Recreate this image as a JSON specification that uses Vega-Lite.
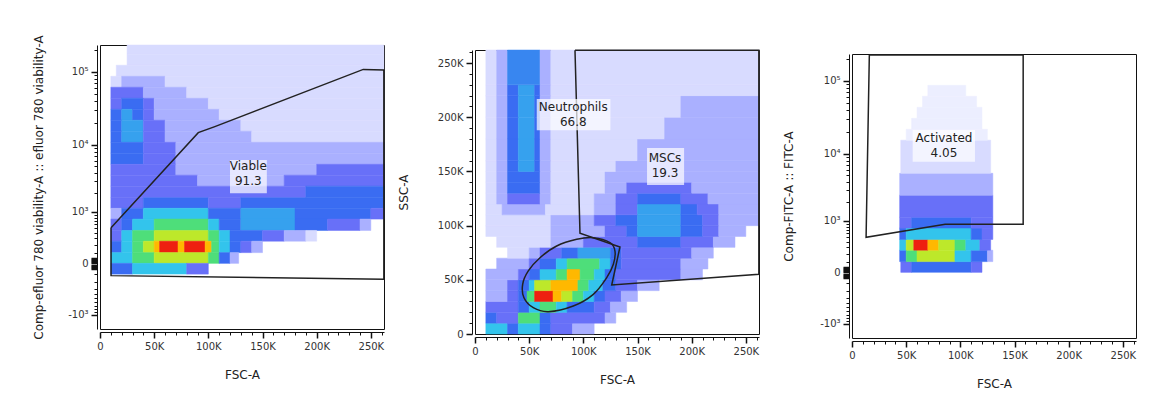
{
  "$schema": "https://vega.github.io/schema/vega-lite/v6.json",
  "background": "white",
  "padding": {"left": 32, "top": 34, "right": 5, "bottom": 5},
  "spacing": 19,
  "config": {
    "view": {"stroke": "#111", "strokeWidth": 1},
    "axis": {"grid": false, "domainColor": "#111", "tickColor": "#111", "labelColor": "#333", "labelFont": "DejaVu Sans", "labelFontSize": 10, "titleFont": "DejaVu Sans", "titleFontWeight": "normal", "titleColor": "#222", "labelOverlap": false, "labelFlush": false, "offset": 3, "minExtent": 0, "labelPadding": 3}
  },
  "datasets": {
    "c1": [
      {"y":174000,"y2":232000,"x":25,"x2":262,"d":1},
      {"y":123000,"y2":174000,"x":25,"x2":262,"d":1},
      {"y":87000,"y2":123000,"x":15,"x2":262,"d":1},
      {"y":61700,"y2":87000,"x":10,"x2":20,"d":1},{"y":61700,"y2":87000,"x":20,"x2":60,"d":2},{"y":61700,"y2":87000,"x":60,"x2":262,"d":1},
      {"y":43600,"y2":61700,"x":10,"x2":40,"d":3},{"y":43600,"y2":61700,"x":40,"x2":80,"d":2},{"y":43600,"y2":61700,"x":80,"x2":262,"d":1},
      {"y":30800,"y2":43600,"x":10,"x2":20,"d":3},{"y":30800,"y2":43600,"x":20,"x2":40,"d":4},{"y":30800,"y2":43600,"x":40,"x2":50,"d":3},{"y":30800,"y2":43600,"x":50,"x2":100,"d":2},{"y":30800,"y2":43600,"x":100,"x2":262,"d":1},
      {"y":21800,"y2":30800,"x":10,"x2":20,"d":4},{"y":21800,"y2":30800,"x":20,"x2":30,"d":4.6},{"y":21800,"y2":30800,"x":30,"x2":40,"d":4},{"y":21800,"y2":30800,"x":40,"x2":50,"d":3},{"y":21800,"y2":30800,"x":50,"x2":110,"d":2},{"y":21800,"y2":30800,"x":110,"x2":262,"d":1},
      {"y":15400,"y2":21800,"x":10,"x2":20,"d":4},{"y":15400,"y2":21800,"x":20,"x2":40,"d":4.6},{"y":15400,"y2":21800,"x":40,"x2":60,"d":3},{"y":15400,"y2":21800,"x":60,"x2":130,"d":2},{"y":15400,"y2":21800,"x":130,"x2":262,"d":1},
      {"y":10800,"y2":15400,"x":10,"x2":20,"d":4},{"y":10800,"y2":15400,"x":20,"x2":40,"d":4.6},{"y":10800,"y2":15400,"x":40,"x2":60,"d":3},{"y":10800,"y2":15400,"x":60,"x2":140,"d":2},{"y":10800,"y2":15400,"x":140,"x2":262,"d":1},
      {"y":7600,"y2":10800,"x":10,"x2":40,"d":4},{"y":7600,"y2":10800,"x":40,"x2":70,"d":3},{"y":7600,"y2":10800,"x":70,"x2":262,"d":2},
      {"y":5300,"y2":7600,"x":10,"x2":40,"d":4},{"y":5300,"y2":7600,"x":40,"x2":70,"d":3},{"y":5300,"y2":7600,"x":70,"x2":262,"d":2},
      {"y":3700,"y2":5300,"x":10,"x2":70,"d":3},{"y":3700,"y2":5300,"x":70,"x2":200,"d":2},{"y":3700,"y2":5300,"x":200,"x2":262,"d":3},
      {"y":2550,"y2":3700,"x":10,"x2":90,"d":3},{"y":2550,"y2":3700,"x":90,"x2":170,"d":2},{"y":2550,"y2":3700,"x":170,"x2":262,"d":3},
      {"y":1700,"y2":2550,"x":10,"x2":190,"d":3},{"y":1700,"y2":2550,"x":190,"x2":262,"d":4},
      {"y":1150,"y2":1700,"x":10,"x2":40,"d":3},{"y":1150,"y2":1700,"x":40,"x2":100,"d":4},{"y":1150,"y2":1700,"x":100,"x2":130,"d":3},{"y":1150,"y2":1700,"x":130,"x2":262,"d":4},
      {"y":750,"y2":1150,"x":10,"x2":20,"d":2},{"y":750,"y2":1150,"x":20,"x2":40,"d":4},{"y":750,"y2":1150,"x":40,"x2":100,"d":5},{"y":750,"y2":1150,"x":100,"x2":130,"d":4},{"y":750,"y2":1150,"x":130,"x2":180,"d":4.6},{"y":750,"y2":1150,"x":180,"x2":250,"d":4},{"y":750,"y2":1150,"x":250,"x2":262,"d":3},
      {"y":450,"y2":750,"x":10,"x2":20,"d":3},{"y":450,"y2":750,"x":20,"x2":30,"d":4},{"y":450,"y2":750,"x":30,"x2":50,"d":5},{"y":450,"y2":750,"x":50,"x2":100,"d":6},{"y":450,"y2":750,"x":100,"x2":110,"d":5},{"y":450,"y2":750,"x":110,"x2":130,"d":4},{"y":450,"y2":750,"x":130,"x2":180,"d":4.6},{"y":450,"y2":750,"x":180,"x2":210,"d":4},{"y":450,"y2":750,"x":210,"x2":240,"d":3},{"y":450,"y2":750,"x":240,"x2":250,"d":2},
      {"y":250,"y2":450,"x":10,"x2":20,"d":3},{"y":250,"y2":450,"x":20,"x2":30,"d":5},{"y":250,"y2":450,"x":30,"x2":50,"d":6},{"y":250,"y2":450,"x":50,"x2":100,"d":7},{"y":250,"y2":450,"x":100,"x2":110,"d":6},{"y":250,"y2":450,"x":110,"x2":120,"d":5},{"y":250,"y2":450,"x":120,"x2":150,"d":4},{"y":250,"y2":450,"x":150,"x2":170,"d":3},{"y":250,"y2":450,"x":170,"x2":190,"d":2},{"y":250,"y2":450,"x":190,"x2":200,"d":1},
      {"y":100,"y2":250,"x":10,"x2":20,"d":4},{"y":100,"y2":250,"x":20,"x2":30,"d":5},{"y":100,"y2":250,"x":30,"x2":40,"d":6},{"y":100,"y2":250,"x":40,"x2":50,"d":7},{"y":100,"y2":250,"x":50,"x2":55,"d":8},{"y":100,"y2":250,"x":55,"x2":72,"d":9},{"y":100,"y2":250,"x":72,"x2":78,"d":8},{"y":100,"y2":250,"x":78,"x2":97,"d":9},{"y":100,"y2":250,"x":97,"x2":103,"d":8},{"y":100,"y2":250,"x":103,"x2":110,"d":6},{"y":100,"y2":250,"x":110,"x2":120,"d":5},{"y":100,"y2":250,"x":120,"x2":130,"d":4},{"y":100,"y2":250,"x":130,"x2":140,"d":3},{"y":100,"y2":250,"x":140,"x2":150,"d":2},
      {"y":0,"y2":100,"x":10,"x2":30,"d":5},{"y":0,"y2":100,"x":30,"x2":50,"d":6},{"y":0,"y2":100,"x":50,"x2":100,"d":7},{"y":0,"y2":100,"x":100,"x2":110,"d":6},{"y":0,"y2":100,"x":110,"x2":120,"d":4},{"y":0,"y2":100,"x":120,"x2":128,"d":2},
      {"y":-100,"y2":0,"x":10,"x2":30,"d":4},{"y":-100,"y2":0,"x":30,"x2":80,"d":5},{"y":-100,"y2":0,"x":80,"x2":100,"d":3}
    ],
    "c2": [
      {"y":0,"y2":10,"x":10,"x2":30,"d":5},{"y":0,"y2":10,"x":30,"x2":40,"d":4},{"y":0,"y2":10,"x":40,"x2":60,"d":5},{"y":0,"y2":10,"x":60,"x2":70,"d":4},{"y":0,"y2":10,"x":70,"x2":90,"d":3},{"y":0,"y2":10,"x":90,"x2":110,"d":2},
      {"y":10,"y2":20,"x":10,"x2":20,"d":4},{"y":10,"y2":20,"x":20,"x2":40,"d":3},{"y":10,"y2":20,"x":40,"x2":60,"d":6},{"y":10,"y2":20,"x":60,"x2":70,"d":4},{"y":10,"y2":20,"x":70,"x2":120,"d":3},{"y":10,"y2":20,"x":120,"x2":130,"d":2},
      {"y":20,"y2":30,"x":10,"x2":40,"d":3},{"y":20,"y2":30,"x":40,"x2":50,"d":4},{"y":20,"y2":30,"x":50,"x2":60,"d":5},{"y":20,"y2":30,"x":60,"x2":75,"d":6},{"y":20,"y2":30,"x":75,"x2":85,"d":5},{"y":20,"y2":30,"x":85,"x2":110,"d":4},{"y":20,"y2":30,"x":110,"x2":125,"d":3},{"y":20,"y2":30,"x":125,"x2":140,"d":2},
      {"y":30,"y2":40,"x":10,"x2":30,"d":2},{"y":30,"y2":40,"x":30,"x2":40,"d":3},{"y":30,"y2":40,"x":40,"x2":48,"d":4},{"y":30,"y2":40,"x":48,"x2":55,"d":6},{"y":30,"y2":40,"x":55,"x2":72,"d":9},{"y":30,"y2":40,"x":72,"x2":80,"d":8},{"y":30,"y2":40,"x":80,"x2":90,"d":7},{"y":30,"y2":40,"x":90,"x2":100,"d":6},{"y":30,"y2":40,"x":100,"x2":110,"d":5},{"y":30,"y2":40,"x":110,"x2":120,"d":4},{"y":30,"y2":40,"x":120,"x2":135,"d":3},{"y":30,"y2":40,"x":135,"x2":150,"d":2},
      {"y":40,"y2":50,"x":10,"x2":30,"d":2},{"y":40,"y2":50,"x":30,"x2":40,"d":3},{"y":40,"y2":50,"x":40,"x2":50,"d":4},{"y":40,"y2":50,"x":50,"x2":55,"d":5},{"y":40,"y2":50,"x":55,"x2":70,"d":7},{"y":40,"y2":50,"x":70,"x2":95,"d":8},{"y":40,"y2":50,"x":95,"x2":105,"d":6},{"y":40,"y2":50,"x":105,"x2":118,"d":5},{"y":40,"y2":50,"x":118,"x2":130,"d":4},{"y":40,"y2":50,"x":130,"x2":150,"d":3},{"y":40,"y2":50,"x":150,"x2":170,"d":2},
      {"y":50,"y2":60,"x":10,"x2":40,"d":2},{"y":50,"y2":60,"x":40,"x2":50,"d":3},{"y":50,"y2":60,"x":50,"x2":60,"d":4},{"y":50,"y2":60,"x":60,"x2":75,"d":5},{"y":50,"y2":60,"x":75,"x2":85,"d":6},{"y":50,"y2":60,"x":85,"x2":97,"d":8},{"y":50,"y2":60,"x":97,"x2":110,"d":6},{"y":50,"y2":60,"x":110,"x2":120,"d":5},{"y":50,"y2":60,"x":120,"x2":130,"d":4},{"y":50,"y2":60,"x":130,"x2":190,"d":3},{"y":50,"y2":60,"x":190,"x2":210,"d":2},
      {"y":60,"y2":70,"x":20,"x2":50,"d":2},{"y":60,"y2":70,"x":50,"x2":60,"d":3},{"y":60,"y2":70,"x":60,"x2":75,"d":4},{"y":60,"y2":70,"x":75,"x2":85,"d":5},{"y":60,"y2":70,"x":85,"x2":115,"d":6},{"y":60,"y2":70,"x":115,"x2":125,"d":5},{"y":60,"y2":70,"x":125,"x2":135,"d":4},{"y":60,"y2":70,"x":135,"x2":190,"d":3},{"y":60,"y2":70,"x":190,"x2":215,"d":2},
      {"y":70,"y2":80,"x":30,"x2":50,"d":1},{"y":70,"y2":80,"x":50,"x2":60,"d":2},{"y":70,"y2":80,"x":60,"x2":80,"d":3},{"y":70,"y2":80,"x":80,"x2":95,"d":4},{"y":70,"y2":80,"x":95,"x2":125,"d":4.6},{"y":70,"y2":80,"x":125,"x2":135,"d":4},{"y":70,"y2":80,"x":135,"x2":200,"d":3},{"y":70,"y2":80,"x":200,"x2":220,"d":2},
      {"y":80,"y2":90,"x":20,"x2":70,"d":1},{"y":80,"y2":90,"x":70,"x2":100,"d":2},{"y":80,"y2":90,"x":100,"x2":150,"d":3},{"y":80,"y2":90,"x":150,"x2":190,"d":4},{"y":80,"y2":90,"x":190,"x2":220,"d":3},{"y":80,"y2":90,"x":220,"x2":240,"d":2},
      {"y":90,"y2":100,"x":10,"x2":70,"d":1},{"y":90,"y2":100,"x":70,"x2":120,"d":2},{"y":90,"y2":100,"x":120,"x2":140,"d":3},{"y":90,"y2":100,"x":140,"x2":150,"d":4},{"y":90,"y2":100,"x":150,"x2":190,"d":4.6},{"y":90,"y2":100,"x":190,"x2":210,"d":4},{"y":90,"y2":100,"x":210,"x2":225,"d":3},{"y":90,"y2":100,"x":225,"x2":250,"d":2},
      {"y":100,"y2":110,"x":10,"x2":70,"d":1},{"y":100,"y2":110,"x":70,"x2":110,"d":2},{"y":100,"y2":110,"x":110,"x2":130,"d":3},{"y":100,"y2":110,"x":130,"x2":150,"d":4},{"y":100,"y2":110,"x":150,"x2":190,"d":4.6},{"y":100,"y2":110,"x":190,"x2":210,"d":4},{"y":100,"y2":110,"x":210,"x2":225,"d":3},{"y":100,"y2":110,"x":225,"x2":262,"d":2},
      {"y":110,"y2":120,"x":10,"x2":25,"d":1},{"y":110,"y2":120,"x":25,"x2":65,"d":2},{"y":110,"y2":120,"x":65,"x2":110,"d":1},{"y":110,"y2":120,"x":110,"x2":130,"d":2},{"y":110,"y2":120,"x":130,"x2":150,"d":3},{"y":110,"y2":120,"x":150,"x2":190,"d":4.6},{"y":110,"y2":120,"x":190,"x2":205,"d":4},{"y":110,"y2":120,"x":205,"x2":225,"d":3},{"y":110,"y2":120,"x":225,"x2":262,"d":2},
      {"y":120,"y2":130,"x":10,"x2":20,"d":1},{"y":120,"y2":130,"x":20,"x2":30,"d":2},{"y":120,"y2":130,"x":30,"x2":60,"d":3},{"y":120,"y2":130,"x":60,"x2":70,"d":2},{"y":120,"y2":130,"x":70,"x2":110,"d":1},{"y":120,"y2":130,"x":110,"x2":130,"d":2},{"y":120,"y2":130,"x":130,"x2":150,"d":3},{"y":120,"y2":130,"x":150,"x2":190,"d":4},{"y":120,"y2":130,"x":190,"x2":215,"d":3},{"y":120,"y2":130,"x":215,"x2":262,"d":2},
      {"y":130,"y2":140,"x":10,"x2":20,"d":1},{"y":130,"y2":140,"x":20,"x2":30,"d":2},{"y":130,"y2":140,"x":30,"x2":60,"d":4},{"y":130,"y2":140,"x":60,"x2":70,"d":2},{"y":130,"y2":140,"x":70,"x2":120,"d":1},{"y":130,"y2":140,"x":120,"x2":140,"d":2},{"y":130,"y2":140,"x":140,"x2":200,"d":3},{"y":130,"y2":140,"x":200,"x2":262,"d":2},
      {"y":140,"y2":150,"x":10,"x2":20,"d":1},{"y":140,"y2":150,"x":20,"x2":30,"d":2},{"y":140,"y2":150,"x":30,"x2":60,"d":4},{"y":140,"y2":150,"x":60,"x2":70,"d":2},{"y":140,"y2":150,"x":70,"x2":120,"d":1},{"y":140,"y2":150,"x":120,"x2":262,"d":2},
      {"y":150,"y2":160,"x":10,"x2":20,"d":1},{"y":150,"y2":160,"x":20,"x2":30,"d":2},{"y":150,"y2":160,"x":30,"x2":40,"d":4},{"y":150,"y2":160,"x":40,"x2":55,"d":4.6},{"y":150,"y2":160,"x":55,"x2":60,"d":4},{"y":150,"y2":160,"x":60,"x2":70,"d":2},{"y":150,"y2":160,"x":70,"x2":130,"d":1},{"y":150,"y2":160,"x":130,"x2":262,"d":2},
      {"y":160,"y2":180,"x":10,"x2":20,"d":1},{"y":160,"y2":180,"x":20,"x2":30,"d":2},{"y":160,"y2":180,"x":30,"x2":40,"d":4},{"y":160,"y2":180,"x":40,"x2":55,"d":4.6},{"y":160,"y2":180,"x":55,"x2":60,"d":4},{"y":160,"y2":180,"x":60,"x2":70,"d":2},{"y":160,"y2":180,"x":70,"x2":150,"d":1},{"y":160,"y2":180,"x":150,"x2":262,"d":2},
      {"y":180,"y2":200,"x":10,"x2":20,"d":1},{"y":180,"y2":200,"x":20,"x2":30,"d":2},{"y":180,"y2":200,"x":30,"x2":40,"d":4},{"y":180,"y2":200,"x":40,"x2":55,"d":4.6},{"y":180,"y2":200,"x":55,"x2":60,"d":4},{"y":180,"y2":200,"x":60,"x2":70,"d":2},{"y":180,"y2":200,"x":70,"x2":175,"d":1},{"y":180,"y2":200,"x":175,"x2":262,"d":2},
      {"y":200,"y2":220,"x":10,"x2":20,"d":1},{"y":200,"y2":220,"x":20,"x2":30,"d":2},{"y":200,"y2":220,"x":30,"x2":40,"d":4},{"y":200,"y2":220,"x":40,"x2":55,"d":4.6},{"y":200,"y2":220,"x":55,"x2":60,"d":4},{"y":200,"y2":220,"x":60,"x2":70,"d":2},{"y":200,"y2":220,"x":70,"x2":190,"d":1},{"y":200,"y2":220,"x":190,"x2":262,"d":2},
      {"y":220,"y2":230,"x":10,"x2":20,"d":1},{"y":220,"y2":230,"x":20,"x2":30,"d":2},{"y":220,"y2":230,"x":30,"x2":40,"d":4},{"y":220,"y2":230,"x":40,"x2":55,"d":4.6},{"y":220,"y2":230,"x":55,"x2":60,"d":4},{"y":220,"y2":230,"x":60,"x2":70,"d":2},{"y":220,"y2":230,"x":70,"x2":262,"d":1},
      {"y":230,"y2":262.144,"x":10,"x2":20,"d":1},{"y":230,"y2":262.144,"x":20,"x2":30,"d":2},{"y":230,"y2":262.144,"x":30,"x2":60,"d":4.3},{"y":230,"y2":262.144,"x":60,"x2":70,"d":2},{"y":230,"y2":262.144,"x":70,"x2":262,"d":1}
    ],
    "c3": [
      {"y":0,"y2":100,"x":45,"x2":55,"d":3},{"y":0,"y2":100,"x":55,"x2":110,"d":4},{"y":0,"y2":100,"x":110,"x2":120,"d":3},
      {"y":100,"y2":250,"x":44,"x2":50,"d":4},{"y":100,"y2":250,"x":50,"x2":60,"d":6},{"y":100,"y2":250,"x":60,"x2":95,"d":7},{"y":100,"y2":250,"x":95,"x2":110,"d":5},{"y":100,"y2":250,"x":110,"x2":125,"d":4},{"y":100,"y2":250,"x":125,"x2":130,"d":2},
      {"y":250,"y2":450,"x":44,"x2":50,"d":5},{"y":250,"y2":450,"x":50,"x2":57,"d":7},{"y":250,"y2":450,"x":57,"x2":70,"d":9},{"y":250,"y2":450,"x":70,"x2":80,"d":8},{"y":250,"y2":450,"x":80,"x2":95,"d":7},{"y":250,"y2":450,"x":95,"x2":105,"d":6},{"y":250,"y2":450,"x":105,"x2":118,"d":5},{"y":250,"y2":450,"x":118,"x2":128,"d":3},
      {"y":450,"y2":750,"x":44,"x2":50,"d":4},{"y":450,"y2":750,"x":50,"x2":110,"d":5},{"y":450,"y2":750,"x":110,"x2":120,"d":4},{"y":450,"y2":750,"x":120,"x2":130,"d":3},
      {"y":750,"y2":1150,"x":44,"x2":55,"d":3},{"y":750,"y2":1150,"x":55,"x2":110,"d":4},{"y":750,"y2":1150,"x":110,"x2":130,"d":3},
      {"y":1150,"y2":2550,"x":44,"x2":130,"d":3},
      {"y":2550,"y2":5300,"x":44,"x2":130,"d":2},
      {"y":5300,"y2":15400,"x":45,"x2":128,"d":1},
      {"y":15400,"y2":21800,"x":50,"x2":125,"d":0.5},
      {"y":21800,"y2":30800,"x":55,"x2":120,"d":0.5},
      {"y":30800,"y2":43600,"x":60,"x2":120,"d":0.5},
      {"y":43600,"y2":61700,"x":65,"x2":115,"d":0.5},
      {"y":61700,"y2":87000,"x":70,"x2":105,"d":0.5}
    ],
    "g1": [
      {"o":0,"x":10.2,"y":510},{"o":1,"x":10.2,"y":-117},{"o":2,"x":262,"y":-161},{"o":3,"x":262,"y":106000},{"o":4,"x":243,"y":108000},{"o":5,"x":106,"y":17800},{"o":6,"x":90.7,"y":14700},{"o":7,"x":10.2,"y":510}
    ],
    "g2": [
      {"o":0,"x":92.3,"y":262},{"o":1,"x":96.9,"y":93},{"o":2,"x":133.8,"y":80.3},{"o":3,"x":126.2,"y":45.2},{"o":4,"x":262,"y":55.1},{"o":5,"x":262,"y":262},{"o":6,"x":92.3,"y":262}
    ],
    "e2": [
      {"o":0,"x":129.2,"y":76.6},{"o":1,"x":127.7,"y":64.3},{"o":2,"x":121.6,"y":52.0},{"o":3,"x":109.2,"y":36.6},{"o":4,"x":90.7,"y":25.8},{"o":5,"x":67.7,"y":20.6},{"o":6,"x":53.8,"y":24.3},{"o":7,"x":45.2,"y":33.5},{"o":8,"x":44.0,"y":45.9},{"o":9,"x":49.2,"y":58.2},{"o":10,"x":60.0,"y":70.4},{"o":11,"x":75.4,"y":81.2},{"o":12,"x":93.9,"y":87.4},{"o":13,"x":109.2,"y":88.9},{"o":14,"x":124.6,"y":84.3}
    ],
    "g3": [
      {"o":0,"x":16,"y":225000},{"o":1,"x":158,"y":225000},{"o":2,"x":158,"y":880},{"o":3,"x":86,"y":880},{"o":4,"x":13,"y":500},{"o":5,"x":16,"y":225000}
    ],
    "t1": [{"t":"Viable\n91.3","x":136.9,"y":5000,"bx":120,"bx2":154,"by":2000,"by2":6100}],
    "t2": [
      {"t":"Neutrophils\n66.8","x":90.7,"y":209.5,"bx":57,"bx2":125,"by":188,"by2":217},
      {"t":"MSCs\n19.3","x":175.4,"y":162.2,"bx":158.8,"bx2":193,"by":137.5,"by2":171.7}
    ],
    "t3": [{"t":"Activated\n4.05","x":84.9,"y":16400,"bx":56,"bx2":113.5,"by":7700,"by2":21300}]
  },
  "hconcat": [
    {
      "spacing": 8,
      "hconcat": [
        {
          "width": 284, "height": 284,
          "resolve": {"axis": {"x": "independent", "y": "independent"}},
          "layer": [
            {
              "data": {"name": "c1"},
              "mark": {"type": "rect", "strokeWidth": 0.5},
              "encoding": {
                "x": {"field": "x", "type": "quantitative", "scale": {"domain": [0, 262.144], "nice": false, "zero": false},
                  "axis": {"orient": "bottom", "title": "FSC-A", "titleFontSize": 12, "titlePadding": 18, "values": [0,50,100,150,200,250], "labelExpr": "datum.value == 0 ? '0' : datum.value + 'K'", "tickSize": 6, "tickWidth": 1.5}},
                "x2": {"field": "x2"},
                "y": {"field": "y", "type": "quantitative", "scale": {"type": "symlog", "constant": 250, "domain": [-1700, 232000], "nice": false, "zero": false},
                  "axis": {"orient": "left", "title": "Comp-efluor 780 viability-A :: efluor 780 viability-A", "titleFontSize": 12, "titlePadding": 22, "values": [-1000,0,1000,10000,100000],
                    "labelExpr": "datum.value == 100000 ? '10⁵' : datum.value == 10000 ? '10⁴' : datum.value == 1000 ? '10³' : datum.value == 0 ? '0' : '-10³'", "tickSize": 6, "tickWidth": 1.5}},
                "y2": {"field": "y2"},
                "color": {"field": "d", "type": "quantitative", "legend": null, "scale": {"domain": [0.5,1,2,3,4,5,6,7,8,9], "range": ["#eceeff","#d8dbff","#aab0ff","#6870f8","#3a6cf2","#33c4ec","#4ede7a","#bde82a","#ffb800","#ee2010"], "interpolate": "rgb"}},
                "stroke": {"field": "d", "type": "quantitative", "legend": null, "scale": {"domain": [0.5,1,2,3,4,5,6,7,8,9], "range": ["#eceeff","#d8dbff","#aab0ff","#6870f8","#3a6cf2","#33c4ec","#4ede7a","#bde82a","#ffb800","#ee2010"], "interpolate": "rgb"}}
              }
            },
            {
              "mark": {"type": "rule", "color": "#3ccfb0", "strokeWidth": 2},
              "encoding": {"x": {"datum": 261.3, "axis": null}, "y": {"datum": 450, "axis": null}, "y2": {"datum": 232000}}
            },
            {
              "data": {"name": "g1"},
              "mark": {"type": "line", "color": "#222", "strokeWidth": 1.5},
              "encoding": {
                "x": {"field": "x", "type": "quantitative", "axis": {"orient": "bottom", "title": null, "labels": false, "domain": false, "tickSize": 3, "values": [10,20,30,40,60,70,80,90,110,120,130,140,160,170,180,190,210,220,230,240,260]}},
                "y": {"field": "y", "type": "quantitative", "axis": {"orient": "left", "title": null, "labels": false, "domain": false,
                  "values": [-900,-800,-700,-600,-500,-400,-300,-200,-100,-50,-40,-30,-20,-10,10,20,30,40,50,100,200,300,400,500,600,700,800,900,2000,3000,4000,5000,6000,7000,8000,9000,20000,30000,40000,50000,60000,70000,80000,90000,200000],
                  "tickSize": {"condition": {"test": "abs(datum.value) < 100", "value": 6}, "value": 3},
                  "tickWidth": {"condition": {"test": "abs(datum.value) < 100", "value": 1.5}, "value": 1}}},
                "order": {"field": "o"}
              }
            },
            {
              "data": {"name": "t1"},
              "mark": {"type": "rect", "fill": "white", "opacity": 0.7},
              "encoding": {"x": {"field": "bx", "type": "quantitative", "axis": null}, "x2": {"field": "bx2"}, "y": {"field": "by", "type": "quantitative", "axis": null}, "y2": {"field": "by2"}}
            },
            {
              "data": {"name": "t1"},
              "mark": {"type": "text", "fontSize": 12, "font": "DejaVu Sans", "color": "#222", "lineBreak": "\n", "lineHeight": 15},
              "encoding": {"x": {"field": "x", "type": "quantitative", "axis": null}, "y": {"field": "y", "type": "quantitative", "axis": null}, "text": {"field": "t"}}
            }
          ]
        },
        {
          "spacing": 0,
          "vconcat": [
            {"width": 284, "height": 1, "view": {"stroke": null}, "data": {"values": []}, "mark": {"type": "point", "opacity": 0}},
            {
              "width": 284, "height": 284,
              "resolve": {"axis": {"x": "independent", "y": "independent"}},
              "layer": [
                {
                  "data": {"name": "c2"},
                  "mark": {"type": "rect", "strokeWidth": 0.5},
                  "encoding": {
                    "x": {"field": "x", "type": "quantitative", "scale": {"domain": [0, 262.144], "nice": false, "zero": false},
                      "axis": {"orient": "bottom", "title": "FSC-A", "titleFontSize": 12, "titlePadding": 18, "values": [0,50,100,150,200,250], "labelExpr": "datum.value == 0 ? '0' : datum.value + 'K'", "tickSize": 6, "tickWidth": 1.5}},
                    "x2": {"field": "x2"},
                    "y": {"field": "y", "type": "quantitative", "scale": {"domain": [0, 262.144], "nice": false, "zero": false},
                      "axis": {"orient": "left", "title": "SSC-A", "titleFontSize": 12, "titlePadding": 27, "values": [0,50,100,150,200,250], "labelExpr": "datum.value == 0 ? '0' : datum.value + 'K'", "tickSize": 6, "tickWidth": 1.5}},
                    "y2": {"field": "y2"},
                    "color": {"field": "d", "type": "quantitative", "legend": null, "scale": {"domain": [0.5,1,2,3,4,5,6,7,8,9], "range": ["#eceeff","#d8dbff","#aab0ff","#6870f8","#3a6cf2","#33c4ec","#4ede7a","#bde82a","#ffb800","#ee2010"], "interpolate": "rgb"}},
                    "stroke": {"field": "d", "type": "quantitative", "legend": null, "scale": {"domain": [0.5,1,2,3,4,5,6,7,8,9], "range": ["#eceeff","#d8dbff","#aab0ff","#6870f8","#3a6cf2","#33c4ec","#4ede7a","#bde82a","#ffb800","#ee2010"], "interpolate": "rgb"}}
                  }
                },
                {
                  "mark": {"type": "rule", "color": "#3cd080", "strokeWidth": 2},
                  "encoding": {"x": {"datum": 261.3, "axis": null}, "y": {"datum": 112, "axis": null}, "y2": {"datum": 262.144}}
                },
                {
                  "data": {"name": "g2"},
                  "mark": {"type": "line", "color": "#222", "strokeWidth": 1.5},
                  "encoding": {
                    "x": {"field": "x", "type": "quantitative", "axis": {"orient": "bottom", "title": null, "labels": false, "domain": false, "tickSize": 3, "values": [10,20,30,40,60,70,80,90,110,120,130,140,160,170,180,190,210,220,230,240,260]}},
                    "y": {"field": "y", "type": "quantitative", "axis": {"orient": "left", "title": null, "labels": false, "domain": false, "tickSize": 3, "values": [10,20,30,40,60,70,80,90,110,120,130,140,160,170,180,190,210,220,230,240,260]}},
                    "order": {"field": "o"}
                  }
                },
                {
                  "data": {"name": "e2"},
                  "mark": {"type": "line", "color": "#222", "strokeWidth": 1.5, "interpolate": "cardinal-closed"},
                  "encoding": {"x": {"field": "x", "type": "quantitative", "axis": null}, "y": {"field": "y", "type": "quantitative", "axis": null}, "order": {"field": "o"}}
                },
                {
                  "data": {"name": "t2"},
                  "mark": {"type": "rect", "fill": "white", "opacity": 0.7},
                  "encoding": {"x": {"field": "bx", "type": "quantitative", "axis": null}, "x2": {"field": "bx2"}, "y": {"field": "by", "type": "quantitative", "axis": null}, "y2": {"field": "by2"}}
                },
                {
                  "data": {"name": "t2"},
                  "mark": {"type": "text", "fontSize": 12, "font": "DejaVu Sans", "color": "#222", "lineBreak": "\n", "lineHeight": 15},
                  "encoding": {"x": {"field": "x", "type": "quantitative", "axis": null}, "y": {"field": "y", "type": "quantitative", "axis": null}, "text": {"field": "t"}}
                }
              ]
            }
          ]
        }
      ]
    },
    {
      "spacing": 5,
      "vconcat": [
        {"width": 284, "height": 1, "view": {"stroke": null}, "data": {"values": []}, "mark": {"type": "point", "opacity": 0}},
        {
          "width": 284, "height": 284,
          "resolve": {"axis": {"x": "independent", "y": "independent"}},
          "layer": [
            {
              "data": {"name": "c3"},
              "mark": {"type": "rect", "strokeWidth": 0.5},
              "encoding": {
                "x": {"field": "x", "type": "quantitative", "scale": {"domain": [0, 262.144], "nice": false, "zero": false},
                  "axis": {"orient": "bottom", "title": "FSC-A", "titleFontSize": 12, "titlePadding": 18, "values": [0,50,100,150,200,250], "labelExpr": "datum.value == 0 ? '0' : datum.value + 'K'", "tickSize": 6, "tickWidth": 1.5}},
                "x2": {"field": "x2"},
                "y": {"field": "y", "type": "quantitative", "scale": {"type": "symlog", "constant": 250, "domain": [-1700, 232000], "nice": false, "zero": false},
                  "axis": {"orient": "left", "title": "Comp-FITC-A :: FITC-A", "titleFontSize": 12, "titlePadding": 24, "values": [-1000,0,1000,10000,100000],
                    "labelExpr": "datum.value == 100000 ? '10⁵' : datum.value == 10000 ? '10⁴' : datum.value == 1000 ? '10³' : datum.value == 0 ? '0' : '-10³'", "tickSize": 6, "tickWidth": 1.5}},
                "y2": {"field": "y2"},
                "color": {"field": "d", "type": "quantitative", "legend": null, "scale": {"domain": [0.5,1,2,3,4,5,6,7,8,9], "range": ["#eceeff","#d8dbff","#aab0ff","#6870f8","#3a6cf2","#33c4ec","#4ede7a","#bde82a","#ffb800","#ee2010"], "interpolate": "rgb"}},
                "stroke": {"field": "d", "type": "quantitative", "legend": null, "scale": {"domain": [0.5,1,2,3,4,5,6,7,8,9], "range": ["#eceeff","#d8dbff","#aab0ff","#6870f8","#3a6cf2","#33c4ec","#4ede7a","#bde82a","#ffb800","#ee2010"], "interpolate": "rgb"}}
              }
            },
            {
              "data": {"name": "g3"},
              "mark": {"type": "line", "color": "#222", "strokeWidth": 1.5},
              "encoding": {
                "x": {"field": "x", "type": "quantitative", "axis": {"orient": "bottom", "title": null, "labels": false, "domain": false, "tickSize": 3, "values": [10,20,30,40,60,70,80,90,110,120,130,140,160,170,180,190,210,220,230,240,260]}},
                "y": {"field": "y", "type": "quantitative", "axis": {"orient": "left", "title": null, "labels": false, "domain": false,
                  "values": [-900,-800,-700,-600,-500,-400,-300,-200,-100,-50,-40,-30,-20,-10,10,20,30,40,50,100,200,300,400,500,600,700,800,900,2000,3000,4000,5000,6000,7000,8000,9000,20000,30000,40000,50000,60000,70000,80000,90000,200000],
                  "tickSize": {"condition": {"test": "abs(datum.value) < 100", "value": 6}, "value": 3},
                  "tickWidth": {"condition": {"test": "abs(datum.value) < 100", "value": 1.5}, "value": 1}}},
                "order": {"field": "o"}
              }
            },
            {
              "data": {"name": "t3"},
              "mark": {"type": "rect", "fill": "white", "opacity": 0.7},
              "encoding": {"x": {"field": "bx", "type": "quantitative", "axis": null}, "x2": {"field": "bx2"}, "y": {"field": "by", "type": "quantitative", "axis": null}, "y2": {"field": "by2"}}
            },
            {
              "data": {"name": "t3"},
              "mark": {"type": "text", "fontSize": 12, "font": "DejaVu Sans", "color": "#222", "lineBreak": "\n", "lineHeight": 15},
              "encoding": {"x": {"field": "x", "type": "quantitative", "axis": null}, "y": {"field": "y", "type": "quantitative", "axis": null}, "text": {"field": "t"}}
            }
          ]
        }
      ]
    }
  ]
}
